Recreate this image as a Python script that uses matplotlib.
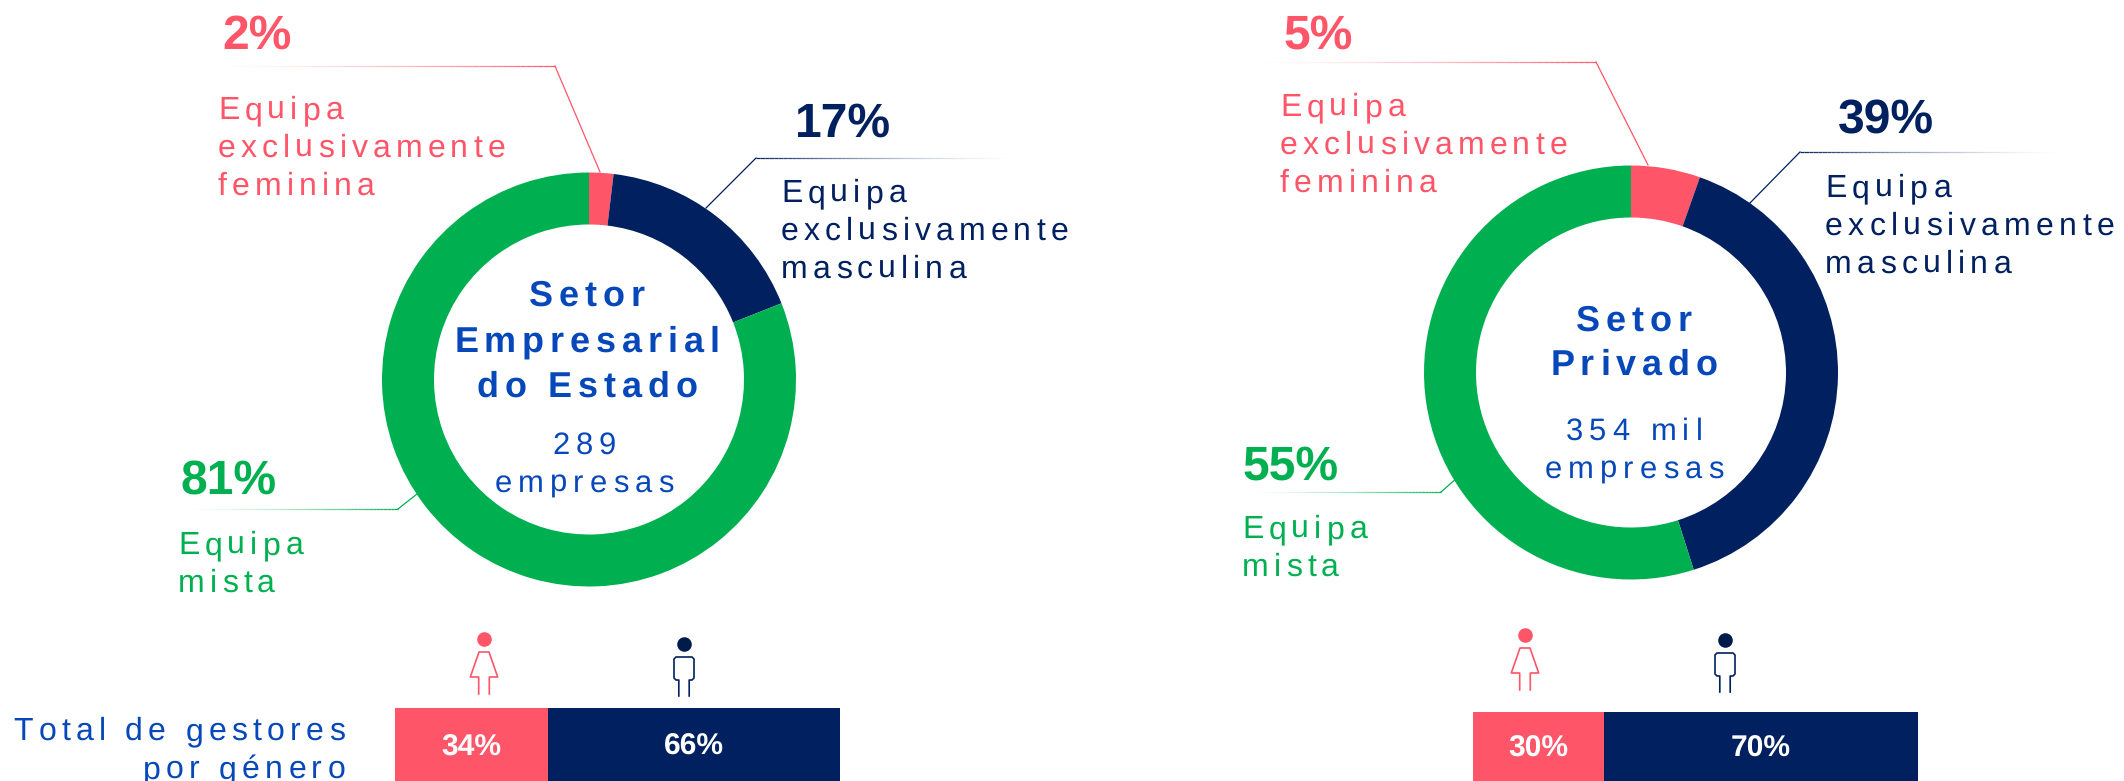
"""Gestores por setor: two donuts (team composition) plus gender split bars."""
import numpy as np
import matplotlib
matplotlib.use("Agg")
import matplotlib.pyplot as plt
from matplotlib.collections import LineCollection
from matplotlib.colors import to_rgb
from matplotlib.font_manager import findfont, get_font
from matplotlib.ft2font import LoadFlags
from matplotlib.text import Text
from matplotlib.transforms import IdentityTransform

plt.rcParams["font.family"] = ["Liberation Sans", "DejaVu Sans"]
plt.rcParams["text.hinting"] = "no_hinting"
plt.rcParams["text.hinting_factor"] = 1

W, H = 2124, 781
CORAL, NAVY, GREEN, BLUE, DARK = "#FF5568", "#002060", "#00B050", "#0648BA", "#001A4A"

team_colors = [CORAL, NAVY, GREEN]
estado_team = [1.9, 17.1, 81.0]
estado_team_labels = ["2%", "17%", "81%"]
privado_team = [5.4, 39.7, 54.9]
privado_team_labels = ["5%", "39%", "55%"]
estado_gender = [34.4, 65.6]
estado_gender_labels = ["34%", "66%"]
privado_gender = [29.4, 70.6]
privado_gender_labels = ["30%", "70%"]


class SpacedText(Text):
    """One line of text with letter spacing (matplotlib has none built in)."""

    def __init__(self, x, y, text, tracking=0.16, **kw):
        super().__init__(x, y, text, **kw)
        self.tracking = tracking

    def draw(self, renderer):
        fp = self.get_fontproperties()
        font = get_font(findfont(fp))
        dpi = self.get_figure().dpi
        font.set_size(fp.get_size_in_points(), dpi)
        step = self.tracking * fp.get_size_in_points() * dpi / 72
        adv = [font.load_char(ord(c), flags=LoadFlags.NO_HINTING).linearHoriAdvance / 65536
               for c in self.get_text()]
        total = sum(adv) + step * (len(adv) - 1)
        px, py = self.get_transform().transform((self._x, self._y))
        ha = self.get_horizontalalignment()
        px -= {"left": 0, "center": total / 2, "right": total}[ha]
        for c, a in zip(self.get_text(), adv):
            t = Text(px, py, c, transform=IdentityTransform(), color=self.get_color(),
                     fontproperties=fp, ha="left", va="baseline")
            t.set_figure(self.get_figure())
            t.draw(renderer)
            px += a + step


def px_axes(fig, x0, y0, x1, y1):
    # axes from pixel box, y measured from the top of the picture
    return fig.add_axes([x0 / W, 1 - y1 / H, (x1 - x0) / W, (y1 - y0) / H])


def donut(fig, cx, cy, vals):
    R = 207
    ax = px_axes(fig, cx - R, cy - R, cx + R, cy + R)
    ax.pie(vals, colors=team_colors, startangle=90, counterclock=False, normalize=True,
           radius=1, wedgeprops=dict(width=52 / R, linewidth=0))
    ax.set_xlim(-1, 1)
    ax.set_ylim(-1, 1)
    ax.axis("off")


def gender_bar(fig, x0, y0, x1, y1, vals, labels):
    ax = px_axes(fig, x0, y0, x1, y1)
    ax.barh([0], [vals[0]], height=1, color=CORAL)
    ax.barh([0], [vals[1]], left=[vals[0]], height=1, color=NAVY)
    # labels sit a little under the middle, the bar runs off the picture
    ax.text(vals[0] / 2, -0.04, labels[0], color="white", weight="bold", fontsize=21.5,
            ha="center", va="center")
    ax.text(vals[0] + vals[1] / 2, -0.04, labels[1], color="white", weight="bold", fontsize=21.5,
            ha="center", va="center")
    ax.set_xlim(0, 100)
    ax.set_ylim(-0.5, 0.5)
    ax.axis("off")


def leader(ax, far, knee, end, color):
    # horizontal part fades out away from the knee
    xs = np.linspace(far[0], knee[0], 61)
    segs = [[(a, knee[1]), (b, knee[1])] for a, b in zip(xs[:-1], xs[1:])]
    rgb = to_rgb(color)
    cols = [(*rgb, (i / 60) ** 1.6) for i in range(60)]
    ax.add_collection(LineCollection(segs, colors=cols, linewidths=0.9))
    ax.plot([knee[0], end[0]], [knee[1], end[1]], color=color, lw=0.9)


def label(ax, x, y, lines, color, ha="left", leading=38, size=23, tracking=0.16, weight="normal"):
    for i, s in enumerate(lines):
        ax.add_artist(SpacedText(x, y + i * leading, s, tracking=tracking, color=color,
                                 fontsize=size, ha=ha, va="baseline", weight=weight,
                                 transform=ax.transData))


def percent(ax, x, y, s, color):
    ax.text(x, y, s, color=color, fontsize=34.5, weight="bold", ha="left", va="baseline")


def woman(ax, x, y):
    ax.plot([x], [y], "o", ms=10.5, color=CORAL, mew=0)
    ax.plot(x + np.array([-5.3, -5.3, -13.7, -5, 5, 13.7, 5.3, 5.3]),
            y + np.array([55, 38, 38, 13, 13, 38, 38, 55]),
            color=CORAL, lw=1.2, solid_joinstyle="round")


def man(ax, x, y):
    ax.plot([x], [y], "o", ms=10.5, color=DARK, mew=0)
    ax.plot(x + np.array([-5.2, -5.2, -8, -10, -10, -8, 8, 10, 10, 8, 5.2, 5.2]),
            y + np.array([52, 36, 36, 34, 15, 13, 13, 15, 34, 36, 36, 52]),
            color=NAVY, lw=1.2, solid_joinstyle="round")


fig = plt.figure(figsize=(W / 100, H / 100), dpi=100, facecolor="white")

donut(fig, 589, 379.5, estado_team)
donut(fig, 1631, 372.5, privado_team)
gender_bar(fig, 395, 708, 840, 781, estado_gender, estado_gender_labels)
gender_bar(fig, 1473, 712, 1918, 781, privado_gender, privado_gender_labels)

# overlay in picture pixels for labels, leader lines and icons
ov = fig.add_axes([0, 0, 1, 1], facecolor="none")
ov.set_xlim(0, W)
ov.set_ylim(H, 0)
ov.axis("off")

leader(ov, (203, 66), (555, 66), (600, 172), CORAL)
leader(ov, (1023, 158), (756, 158), (706, 208), NAVY)
leader(ov, (180, 509), (398, 509), (417, 494), GREEN)
leader(ov, (1240, 62), (1596, 62), (1648, 165), CORAL)
leader(ov, (2066, 152), (1800, 152), (1749, 204), NAVY)
leader(ov, (1243, 492), (1441, 492), (1458, 477), GREEN)

percent(ov, 222, 49, estado_team_labels[0], CORAL)
percent(ov, 795, 137, estado_team_labels[1], NAVY)
percent(ov, 180, 494, estado_team_labels[2], GREEN)
percent(ov, 1284, 49, privado_team_labels[0], CORAL)
percent(ov, 1838, 133, privado_team_labels[1], NAVY)
percent(ov, 1243, 480, privado_team_labels[2], GREEN)

label(ov, 218, 119, ["Equipa", "exclusivamente", "feminina"], CORAL)
label(ov, 781, 202, ["Equipa", "exclusivamente", "masculina"], NAVY)
label(ov, 178, 554, ["Equipa", "mista"], GREEN)
label(ov, 1280, 116, ["Equipa", "exclusivamente", "feminina"], CORAL)
label(ov, 1825, 197, ["Equipa", "exclusivamente", "masculina"], NAVY, tracking=0.165)
label(ov, 1242, 538, ["Equipa", "mista"], GREEN)

label(ov, 587, 306, ["Setor", "Empresarial", "do Estado"], BLUE, ha="center", leading=45.5,
      size=26, tracking=0.165, weight="bold")
label(ov, 584, 454, ["289", "empresas"], BLUE, ha="center", size=22, tracking=0.2)
label(ov, 1634, 331, ["Setor", "Privado"], BLUE, ha="center", leading=44,
      size=26, tracking=0.165, weight="bold")
label(ov, 1634, 440, ["354 mil", "empresas"], BLUE, ha="center", size=22, tracking=0.2)

label(ov, 345, 740, ["Total de gestores", "por género"], BLUE, ha="right", tracking=0.165)

woman(ov, 484, 639)
man(ov, 684, 644)
woman(ov, 1525, 635)
man(ov, 1725, 640)

fig.savefig("out.png", dpi=100)
